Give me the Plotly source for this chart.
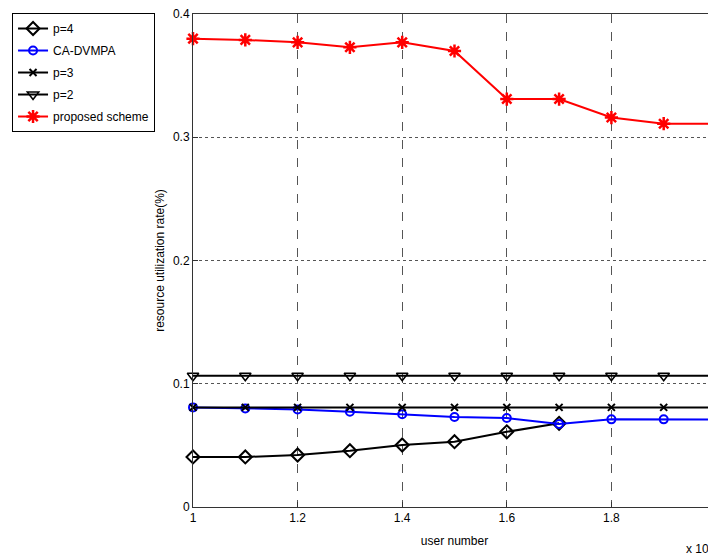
import plotly.graph_objects as go

x_users = [1.0, 1.1, 1.2, 1.3, 1.4, 1.5, 1.6, 1.7, 1.8, 1.9, 2.0]
p4 = [0.0406, 0.0406, 0.0422, 0.0457, 0.0503, 0.0530, 0.0610, 0.0679]
ca_dvmpa = [0.0808, 0.0800, 0.0792, 0.0773, 0.0752, 0.0730, 0.0722, 0.0673, 0.0711, 0.0711, 0.0710]
p3 = [0.0808] * 11
p2 = [0.1065] * 11
proposed = [0.380, 0.379, 0.377, 0.373, 0.377, 0.370, 0.331, 0.331, 0.316, 0.311, 0.311]

FONT = "Liberation Sans, Arial, sans-serif"

fig = go.Figure()
fig.add_trace(go.Scatter(x=x_users[:len(p4)], y=p4, name="p=4", mode="lines+markers", legendgroup="a",
                         line=dict(color="black", width=2), cliponaxis=False,
                         marker=dict(symbol="diamond-open", size=10, color="black", line=dict(width=2))))
fig.add_trace(go.Scatter(x=x_users, y=ca_dvmpa, name="CA-DVMPA", mode="lines+markers", legendgroup="b",
                         line=dict(color="blue", width=2), cliponaxis=False,
                         marker=dict(symbol="circle-open", size=8, color="blue", line=dict(width=2))))
fig.add_trace(go.Scatter(x=x_users, y=p3, name="p=3", mode="lines+markers", legendgroup="c",
                         line=dict(color="black", width=2), cliponaxis=False,
                         marker=dict(symbol="x-thin-open", size=7, color="black", line=dict(width=2))))
fig.add_trace(go.Scatter(x=x_users, y=p2, name="p=2", mode="lines+markers", legendgroup="d",
                         line=dict(color="black", width=2), cliponaxis=False,
                         marker=dict(symbol="triangle-down-open", size=10, color="black", line=dict(width=1.5))))
fig.add_trace(go.Scatter(x=x_users, y=proposed, name="proposed scheme", mode="lines+markers", legendgroup="e",
                         line=dict(color="red", width=2), cliponaxis=False,
                         marker=dict(symbol="asterisk-open", size=11, color="red", line=dict(width=2.5))))

fig.update_layout(
    width=708, height=547,
    margin=dict(l=185, r=0, t=6, b=48, autoexpand=False),
    paper_bgcolor="white", plot_bgcolor="white",
    font=dict(family=FONT, size=12, color="black"),
    showlegend=True,
    legend=dict(x=-0.346, y=1.002, xanchor="left", yanchor="top",
                bordercolor="black", borderwidth=1, bgcolor="white",
                font=dict(family=FONT, size=12), itemwidth=30, tracegroupgap=3),
    xaxis=dict(range=[1, 2], tickvals=[1, 1.2, 1.4, 1.6, 1.8, 2],
               ticktext=["1", "1.2", "1.4", "1.6", "1.8", "2"], ticklabeloverflow="allow",
               showgrid=True, gridcolor="#555", griddash="dash", gridwidth=1,
               showline=True, linecolor="#333", linewidth=1, mirror=True,
               ticks="inside", ticklen=5, tickcolor="#333", zeroline=False,
               title=dict(text="user number", font=dict(size=12), standoff=12)),
    yaxis=dict(range=[0, 0.4], tickvals=[0, 0.1, 0.2, 0.3, 0.4],
               ticktext=["0", "0.1", "0.2", "0.3", "0.4"], ticklabeloverflow="allow",
               showgrid=True, gridcolor="#555", griddash="dot", gridwidth=1,
               showline=True, linecolor="#333", linewidth=1, mirror=True,
               ticks="inside", ticklen=5, tickcolor="#333", zeroline=False,
               title=dict(text="resource utilization rate(%)", font=dict(size=12), standoff=5)),
    annotations=[dict(text="x 10<sup>4</sup>", xref="paper", yref="paper", x=1.0, y=-0.062,
                      xanchor="right", yanchor="top", showarrow=False, font=dict(size=12))],
)

fig.write_html("out.html")
